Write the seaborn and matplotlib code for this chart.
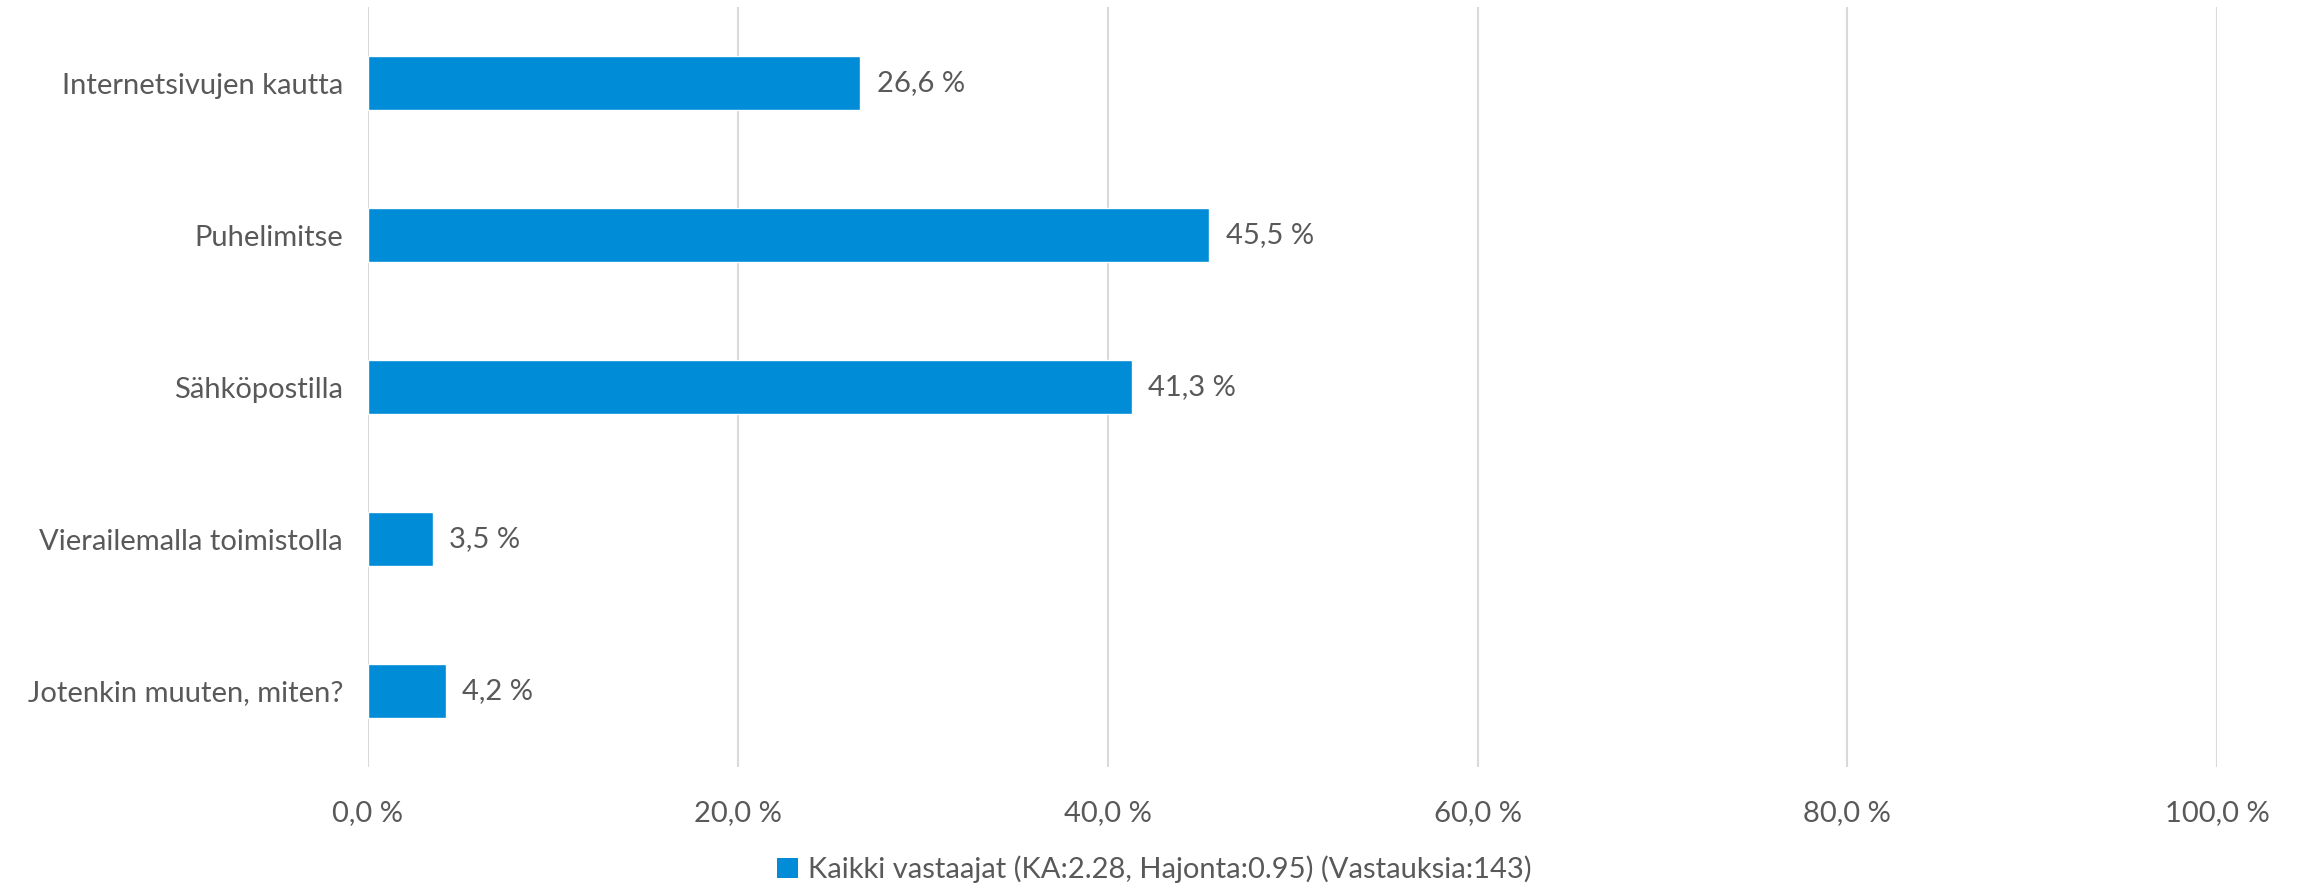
import matplotlib
matplotlib.use("Agg")
import matplotlib.pyplot as plt
import seaborn as sns
import pandas as pd
from matplotlib.patches import Patch

# chart data
categories = ["Internetsivujen kautta", "Puhelimitse", "Sähköpostilla",
              "Vierailemalla toimistolla", "Jotenkin muuten, miten?"]
values = [26.6, 45.5, 41.3, 3.5, 4.2]
xticks = [0, 20, 40, 60, 80, 100]
series_label = "Kaikki vastaajat (KA:2.28, Hajonta:0.95) (Vastauksia:143)"

bar_color = "#008CD6"
text_color = "#595959"
grid_color = "#D9D9D9"

sns.set_theme(style="white")
plt.rcParams["font.family"] = ["Lato", "DejaVu Sans"]

df = pd.DataFrame({"category": categories, "value": values})

fig = plt.figure(figsize=(23, 8.88), dpi=100)
ax = fig.add_axes([0.16, 0.1363, 0.804, 0.8557])

sns.barplot(data=df, y="category", x="value", order=categories,
            color=bar_color, saturation=1, width=0.35, ax=ax)

ax.set_xlim(0, 100)
ax.set_ylim(len(categories) - 0.5, -0.5)
ax.set_xticks(xticks)
ax.set_xticklabels([f"{t:.1f}".replace(".", ",") + " %" for t in xticks])
ax.tick_params(axis="x", length=0, pad=24, labelsize=21, labelcolor=text_color)
ax.tick_params(axis="y", length=0, pad=18, labelsize=21, labelcolor=text_color)
ax.set_xlabel("")
ax.set_ylabel("")

ax.grid(axis="x", color=grid_color, linewidth=1.5)
ax.set_axisbelow(True)
for s in ax.spines.values():
    s.set_visible(False)

for i, v in enumerate(values):
    ax.text(v + 0.9, i, f"{v:.1f}".replace(".", ",") + " %", va="center",
            ha="left", fontsize=21, color=text_color)

handles = [Patch(facecolor=bar_color, edgecolor="none", label=series_label)]
fig.legend(handles=handles, loc="center", bbox_to_anchor=(0.502, 0.021),
           frameon=False, fontsize=21, labelcolor=text_color,
           handlelength=0.7, handleheight=0.7, handletextpad=0.35)

fig.savefig("out.png", dpi=100, facecolor="white")
